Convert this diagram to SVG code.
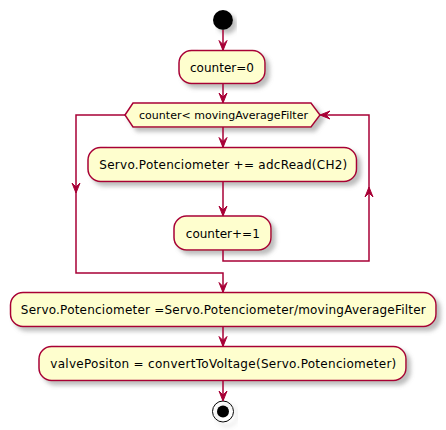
<svg xmlns="http://www.w3.org/2000/svg" width="446" height="430" viewBox="0 0 446 430">
<defs>
<filter id="sh" x="-10%" y="-30%" width="130%" height="180%">
<feGaussianBlur in="SourceAlpha" stdDeviation="2" result="b"/>
<feOffset in="b" dx="4" dy="4" result="o"/>
<feColorMatrix in="o" type="matrix" values="0 0 0 0 0.2  0 0 0 0 0.2  0 0 0 0 0.2  0 0 0 0.5 0" result="c"/>
<feMerge><feMergeNode in="c"/><feMergeNode in="SourceGraphic"/></feMerge>
</filter>
</defs>
<style>
.box{fill:#FEFECE;stroke:#A80036;stroke-width:1.5;filter:url(#sh)}
.t{font-family:"DejaVu Sans",sans-serif;font-size:12px;fill:#000;text-anchor:middle}
.ts{font-family:"DejaVu Sans",sans-serif;font-size:11px;fill:#000;text-anchor:middle}
.ln{fill:none;stroke:#A80036;stroke-width:1.5}
.ah{fill:#A80036;stroke:#A80036;stroke-width:1}
</style>
<g id="start"><circle cx="223" cy="20" r="10" fill="#000" filter="url(#sh)"/></g>
<g id="n1"><rect class="box" x="179" y="50.5" width="86" height="33" rx="12.5"/><text class="t" x="222" y="72" textLength="64" lengthAdjust="spacing">counter=0</text></g>
<g id="loop"><polygon class="box" points="125,115 133,103 311,103 320,115 311,127 133,127"/><text class="ts" x="223.5" y="119" textLength="169" lengthAdjust="spacing">counter&lt; movingAverageFilter</text></g>
<g id="n2"><rect class="box" x="88" y="147.5" width="268.5" height="34" rx="12.5"/><text class="t" x="223.3" y="169" textLength="248" lengthAdjust="spacing">Servo.Potenciometer += adcRead(CH2)</text></g>
<g id="n3"><rect class="box" x="174" y="216" width="97" height="34" rx="12.5"/><text class="t" x="222.8" y="237.5" textLength="74" lengthAdjust="spacing">counter+=1</text></g>
<g id="n4"><rect class="box" x="10.5" y="292.5" width="425.5" height="34" rx="12.5"/><text class="t" x="223.3" y="314" textLength="405" lengthAdjust="spacing">Servo.Potenciometer =Servo.Potenciometer/movingAverageFilter</text></g>
<g id="n5"><rect class="box" x="39" y="346.5" width="367" height="34" rx="12.5"/><text class="t" x="223.3" y="368" textLength="346" lengthAdjust="spacing">valvePositon = convertToVoltage(Servo.Potenciometer)</text></g>
<g id="end"><circle cx="223" cy="411.5" r="10.5" fill="none" stroke="#000" stroke-width="1" filter="url(#sh)"/><circle cx="223" cy="411.5" r="6" fill="#000"/></g>
<g id="connectors">
<line class="ln" x1="223" y1="30" x2="223" y2="50"/>
<polygon class="ah" points="219,40.5 223,50.5 227,40.5 223,44.5"/>
<line class="ln" x1="223" y1="83.5" x2="223" y2="102.5"/>
<polygon class="ah" points="219,93 223,103 227,93 223,97"/>
<line class="ln" x1="223" y1="127" x2="223" y2="147"/>
<polygon class="ah" points="219,137.5 223,147.5 227,137.5 223,141.5"/>
<line class="ln" x1="223" y1="181.5" x2="223" y2="215.5"/>
<polygon class="ah" points="219,206 223,216 227,206 223,210"/>
<polyline class="ln" points="223,250 223,261 369,261 369,115 320.5,115"/>
<polygon class="ah" points="369,187 365,197 369,193 373,197"/>
<polygon class="ah" points="320,115 330,111 326,115 330,119"/>
<polyline class="ln" points="125,115 76,115 76,273 223,273 223,292"/>
<polygon class="ah" points="72,183 76,193 80,183 76,187"/>
<polygon class="ah" points="219,282.5 223,292.5 227,282.5 223,286.5"/>
<line class="ln" x1="223" y1="326.5" x2="223" y2="346"/>
<polygon class="ah" points="219,336.5 223,346.5 227,336.5 223,340.5"/>
<line class="ln" x1="223" y1="380.5" x2="223" y2="400.5"/>
<polygon class="ah" points="219,391 223,401 227,391 223,395"/>
</g>
</svg>
